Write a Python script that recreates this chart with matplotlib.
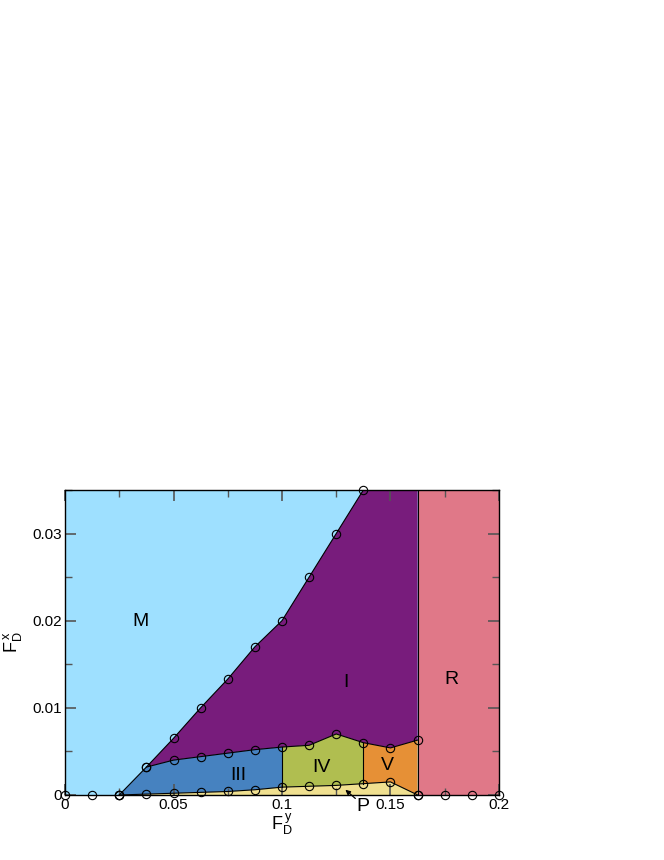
import matplotlib
matplotlib.use('Agg')
import matplotlib.pyplot as plt
from matplotlib.ticker import MultipleLocator

plt.rcParams['font.family'] = ['Liberation Sans', 'DejaVu Sans']

# boundary M / I (and M / III)
mi_x = [0.025, 0.0375, 0.05, 0.0625, 0.075, 0.0875, 0.1, 0.1125, 0.125, 0.1375]
mi_y = [0.0, 0.0032, 0.0065, 0.0100, 0.0133, 0.0170, 0.0200, 0.0250, 0.0300, 0.0350]

# boundary I / (III, IV, V)
up_x = [0.0375, 0.05, 0.0625, 0.075, 0.0875, 0.1, 0.1125, 0.125, 0.1375, 0.15, 0.1625]
up_y = [0.0032, 0.0040, 0.0044, 0.0048, 0.0052, 0.0055, 0.0057, 0.0070, 0.0060, 0.0054, 0.0063]

# boundary P / (III, IV, V)
p_x = [0.025, 0.0375, 0.05, 0.0625, 0.075, 0.0875, 0.1, 0.1125, 0.125, 0.1375, 0.15, 0.1625]
p_y = [0.0, 0.0001, 0.0002, 0.0003, 0.0004, 0.0006, 0.0009, 0.0010, 0.0011, 0.0013, 0.0015, 0.0]

# points on the F_D^x = 0 axis
zero_x = [0.0, 0.0125, 0.025, 0.1625, 0.175, 0.1875, 0.2]

x_max = 0.2
y_max = 0.035
r_edge = 0.1625
iii_iv = 0.1
iv_v = 0.1375

c_m = '#9ee0ff'
c_i = '#781c7c'
c_r = '#e07888'
c_iii = '#4682c0'
c_iv = '#b0be50'
c_v = '#e69036'
c_p = '#f0e090'

fig = plt.figure(figsize=(6.64, 8.60), dpi=100)
ax = fig.add_axes([0.0979, 0.0756, 0.6536, 0.3547])
ax.set_facecolor(c_m)


def seg(xs, ys, a, b):
    # points of a boundary between x=a and x=b
    return [(x, y) for x, y in zip(xs, ys) if a <= x <= b]


def y_at(xs, ys, xv):
    return ys[xs.index(xv)]


lw = 0.8

# region I
poly = seg(mi_x, mi_y, 0.0375, 0.1375) + [(r_edge, y_max)] + seg(up_x, up_y, 0.0375, r_edge)[::-1]
ax.fill([q[0] for q in poly], [q[1] for q in poly], color=c_i, lw=0)

# region III
poly = seg(p_x, p_y, 0.025, iii_iv) + seg(up_x, up_y, 0.0375, iii_iv)[::-1]
ax.fill([q[0] for q in poly], [q[1] for q in poly], color=c_iii, lw=0)

# region IV
poly = seg(p_x, p_y, iii_iv, iv_v) + seg(up_x, up_y, iii_iv, iv_v)[::-1]
ax.fill([q[0] for q in poly], [q[1] for q in poly], color=c_iv, lw=0)

# region V
poly = seg(p_x, p_y, iv_v, r_edge) + seg(up_x, up_y, iv_v, r_edge)[::-1]
ax.fill([q[0] for q in poly], [q[1] for q in poly], color=c_v, lw=0)

# region P
poly = seg(p_x, p_y, 0.025, r_edge)
ax.fill([q[0] for q in poly], [q[1] for q in poly], color=c_p, lw=0)

# region R
ax.axvspan(r_edge, x_max, color=c_r, lw=0)

# boundary lines
ax.plot(mi_x, mi_y, color='black', lw=lw)
ax.plot(up_x, up_y, color='black', lw=lw)
ax.plot(p_x, p_y, color='black', lw=lw)
ax.plot([iii_iv, iii_iv], [y_at(p_x, p_y, iii_iv), y_at(up_x, up_y, iii_iv)], color='black', lw=lw)
ax.plot([iv_v, iv_v], [y_at(p_x, p_y, iv_v), y_at(up_x, up_y, iv_v)], color='black', lw=lw)
ax.plot([r_edge, r_edge], [0, y_max], color='black', lw=lw)

# data points
mk = dict(ls='none', marker='o', mfc='none', mec='black', ms=6, mew=0.8, clip_on=False, zorder=5)
ax.plot(mi_x, mi_y, **mk)
ax.plot(up_x, up_y, **mk)
ax.plot(p_x, p_y, **mk)
ax.plot(zero_x, [0] * len(zero_x), **mk)

# region labels
fs = 14
ax.text(0.0346, 0.0199, 'M', fontsize=fs, ha='center', va='center')
ax.text(0.1295, 0.0129, 'I', fontsize=fs, ha='center', va='center')
ax.text(0.1783, 0.0133, 'R', fontsize=fs, ha='center', va='center')
ax.text(0.0797, 0.0022, 'III', fontsize=fs, ha='center', va='center')
ax.text(0.118, 0.0031, 'IV', fontsize=fs, ha='center', va='center')
ax.text(0.1488, 0.0034, 'V', fontsize=fs, ha='center', va='center')
ax.text(0.1373, -0.0013, 'P', fontsize=fs, ha='center', va='center', clip_on=False)
ax.annotate('', xy=(0.1292, 0.0006), xytext=(0.1338, -0.0004), annotation_clip=False,
            arrowprops=dict(arrowstyle='-|>', color='black', lw=0.9,
                            mutation_scale=7, shrinkA=0, shrinkB=0))

ax.set_xlim(0, x_max)
ax.set_ylim(0, y_max)
ax.xaxis.set_major_locator(MultipleLocator(0.05))
ax.xaxis.set_minor_locator(MultipleLocator(0.025))
ax.yaxis.set_major_locator(MultipleLocator(0.01))
ax.yaxis.set_minor_locator(MultipleLocator(0.005))
ax.set_xticks([0, 0.05, 0.1, 0.15, 0.2])
ax.set_xticklabels(['0', '0.05', '0.1', '0.15', '0.2'])
ax.set_yticks([0, 0.01, 0.02, 0.03])
ax.set_yticklabels(['0', '0.01', '0.02', '0.03'])
ax.tick_params(which='both', direction='in', top=True, right=True, labelsize=11, color='#555555')
ax.tick_params(which='major', length=8, width=1.2, pad=2)
ax.tick_params(which='minor', length=5, width=1.0)
for s in ax.spines.values():
    s.set_linewidth(1.0)
    s.set_zorder(6)

ax.set_xlabel(r'$\mathregular{F^{\,y}_{D}}$', fontsize=13, labelpad=0)
ax.set_ylabel(r'$\mathregular{F^{\,x}_{D}}$', fontsize=13, labelpad=6)

fig.savefig('out.png', dpi=100)
